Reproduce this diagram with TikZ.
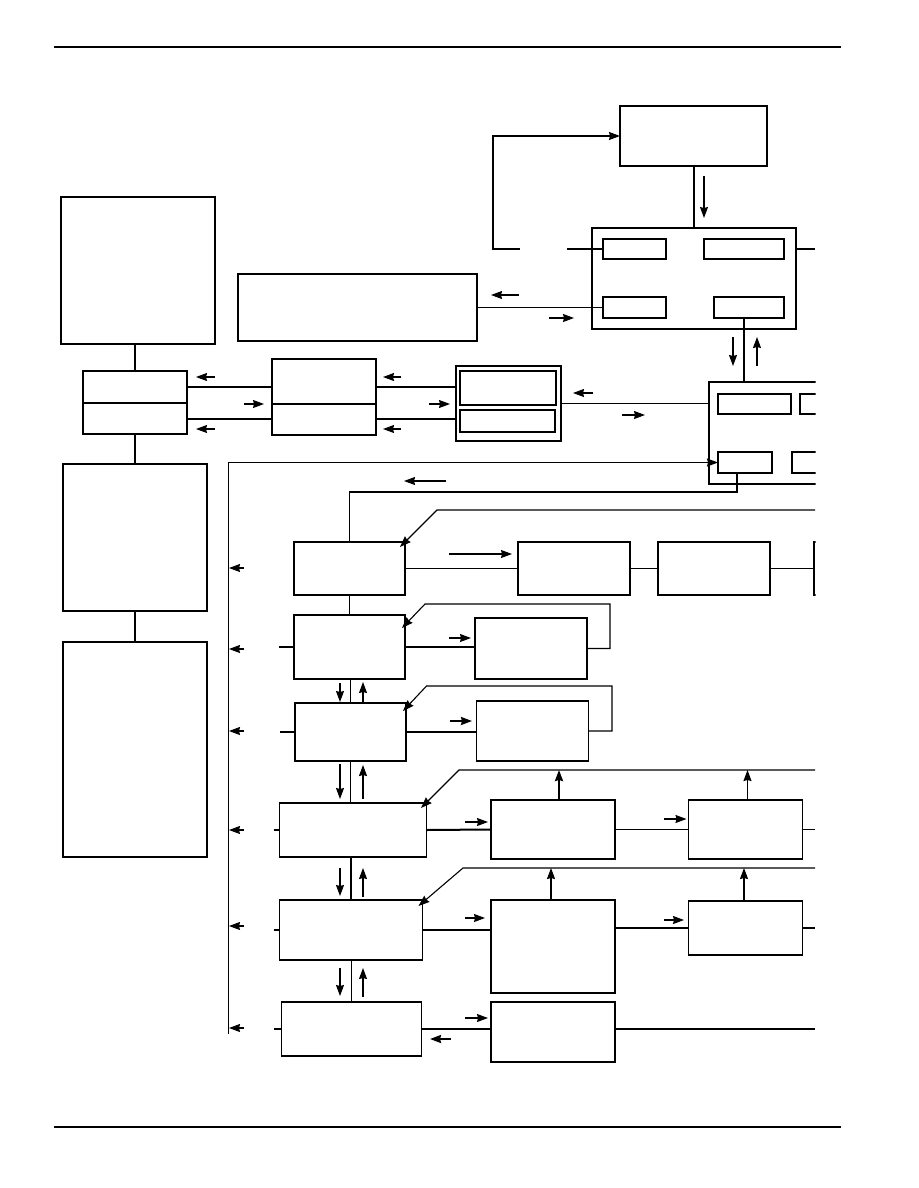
\documentclass[tikz,border=0pt]{standalone}
\usetikzlibrary{arrows.meta,calc,positioning}

\begin{document}
\begin{tikzpicture}[x=1pt,y=-1pt,line width=1.1pt,
every node/.style={draw,rectangle,inner sep=0pt,outer sep=0pt},
bx/.style 2 args={minimum width=#1pt,minimum height=#2pt},
heavy/.style={line width=2.8pt},
wire/.style={line width=2pt},
arr/.style={-{Stealth[length=11pt,width=8pt,inset=1pt]}}]
\useasboundingbox (0,0) rectangle (918,1188);

% page rules
\draw[line width=2.2pt] (54,47) -- (841,47);
\draw[line width=1.2pt] (54,1127) -- (841,1127);

% top part
\node[bx={147}{60}] (T1) at (693.5,136) {};
\node[bx={204}{101},heavy] (B1) at (694,278.5) {};
\node[bx={63}{20}] (B1a) at (634.5,249) {};
\node[bx={80}{20}] (B1b) at (744,249) {};
\node[bx={63}{21}] (B1c) at (634.5,307.5) {};
\node[bx={70}{21}] (B1d) at (749,307.5) {};
\node[bx={239}{67}] (W) at (357.5,307.5) {};

% cut at the right edge
\begin{scope}
\clip (0,0) rectangle (815.5,1188);
\node[bx={130}{102},heavy] (B2) at (774,433) {};
\node[bx={50}{20}] (B2b) at (825,404) {};
\node[bx={58}{21}] (B2d) at (821,462.5) {};
\node[bx={60}{53}] (R1d) at (844,568.5) {};
\end{scope}
\node[bx={73}{20}] (B2a) at (754.5,404) {};
\node[bx={54}{21}] (B2c) at (745,462.5) {};

% left column
\node[bx={154}{147}] (L1) at (138,270.5) {};
\node[bx={104}{32}] (L2t) at (135,387) {};
\node[bx={104}{31}] (L2b) at (135,418.5) {};
\node[bx={144}{147}] (L3) at (135,537.5) {};
\node[bx={144}{215}] (L4) at (135,749.5) {};
\node[bx={104}{45}] (Mt) at (324,381.5) {};
\node[bx={104}{31}] (Mb) at (324,419.5) {};
\node[bx={105}{75}] (S) at (508.5,403.5) {};
\node[bx={96}{34}] (S1) at (508,388) {};
\node[bx={95}{22}] (S2) at (507.5,421) {};

% rows
\node[bx={111}{53}] (R1) at (349.5,568.5) {};
\node[bx={112}{53}] (R1b) at (574,568.5) {};
\node[bx={112}{53}] (R1c) at (714,568.5) {};
\node[bx={111}{64}] (R2) at (349.5,647) {};
\node[bx={112}{61}] (R2b) at (531,648.5) {};
\node[bx={111}{58}] (R3) at (350.5,732) {};
\node[bx={112}{60}] (R3b) at (532.5,731) {};
\node[bx={147}{54}] (R4) at (353,830) {};
\node[bx={124}{59}] (R4b) at (553,829.5) {};
\node[bx={114}{59}] (R4c) at (745.5,829.5) {};
\node[bx={143}{60}] (R5) at (351,930) {};
\node[bx={124}{93}] (R5b) at (553,946.5) {};
\node[bx={114}{54}] (R5c) at (745.5,928) {};
\node[bx={140}{54}] (R6) at (351.5,1029) {};
\node[bx={124}{60}] (R6b) at (553,1032) {};

\coordinate (fbk) at (520,249);
\coordinate (busend) at (228.5,1034);

% top connections
\draw[arr] (fbk) -- (493,249) |- (T1.west);
\draw (B1a.west) -- ++(-36,0);
\draw[wire] (T1.south) -- (T1.south |- B1.north);
\draw[arr] (704,176) -- (704,218);
\draw (B1.east |- B1b.east) -- ++(19,0);
\draw (B1c.west) -- (W.east);
\draw[arr] (519,295) -- (491,295);
\draw[arr] (549,318) -- (574,318);
\draw ([xshift=-5pt]B1d.south) -- ([xshift=-5pt]B1d.south |- B2.north);
\draw[arr] (733,337) -- (733,366);
\draw[arr] (757,366) -- (757,337);

% left column connections
\draw (L2t.north) -- (L2t.north |- L1.south);
\draw (L2b.south) -- (L3.north);
\draw (L3.south) -- (L4.north);
\draw (L2t.east) -- (L2t.east -| Mt.west);
\draw[wire] (L2b.east) -- (L2b.east -| Mb.west);
\draw (L2t.east -| Mt.east) -- (L2t.east -| S.west);
\draw[wire] (L2b.east -| Mb.east) -- (L2b.east -| S.west);
\draw[arr] (215,377) -- (196,377);
\draw[arr] (244,404) -- (264,404);
\draw[arr] (215,429) -- (196,429);
\draw[arr] (401,377) -- (383,377);
\draw[arr] (429,404) -- (450,404);
\draw[arr] (401,429) -- (383,429);
\draw (S.east) -- (S.east -| B2.west);
\draw[arr] (593,393) -- (573,393);
\draw[arr] (622,415) -- (645,415);

% bus
\draw[arr] (busend) |- (B2c.west);
\draw[arr] (244,568) -- (229,568);
\draw[arr] (244,649) -- (229,649);
\draw[arr] (244,731) -- (229,731);
\draw[arr] (244,830) -- (229,830);
\draw[arr] (244,926) -- (229,926);
\draw[arr] (244,1028) -- (229,1028);

% row 1
\draw ([xshift=-8pt]B2c.south) -- ++(0,19) -| (R1.north);
\draw[arr] (446,481) -- (404,481);
\draw[arr] (815,510) -- (437,510) -- ([shift={(-5,5)}]R1.north east);
\draw (R1.east) -- (R1b.west);
\draw[arr] (449,554) -- (512,554);
\draw (R1b.east) -- (R1c.west);
\draw (R1c.east) -- (R1d.west);

% row 2
\draw (R1.south) -- (R2.north);
\draw (R2.west) -- ++(-15,0);
\draw (R2.east) -- (R2.east -| R2b.west);
\draw[arr] (449,638) -- (471,638);
\draw[arr] (R2b.east) -- ++(23,0) |- (425,604) -- ([shift={(-3,13)}]R2.north east);

% row 3
\draw (R3.north) -- (R3.north |- R2.south);
\draw[arr] (340,683) -- (340,702);
\draw[arr] (363,702) -- (363,682);
\draw (R3.west) -- ++(-15,0);
\draw (R3.east) -- (R3.east -| R3b.west);
\draw[arr,wire] (450,721) -- (472,721);
\draw[arr] (R3b.east) -- ++(23.5,0) |- (426.5,686) -- ([shift={(-3,8)}]R3.north east);

% row 4
\draw (R3.south) -- (R3.south |- R4.north);
\draw[arr] (340,764) -- (340,799);
\draw[arr] (363,799) -- (363,765);
\draw[wire] (R4.west) -- ++(-6,0);
\draw[wire] (R4.east) -- (R4b.west);
\draw[arr] (465,822) -- (488,822);
\draw (R4b.east) -- (R4c.west);
\draw[arr] (664,819) -- (686.5,819);
\draw (R4c.east) -- ++(12,0);
\draw[arr] (815,770) -- (459,770) -- ([shift={(-5.5,5)}]R4.north east);
\draw[arr,wire] ([xshift=6pt]R4b.north) -- ++(0,-30);
\draw[arr] ([xshift=2pt]R4c.north) -- ++(0,-30);

% row 5
\draw (R5.north) -- (R5.north |- R4.south);
\draw[arr] (340,868) -- (340,896);
\draw[arr] (363,897) -- (363,868);
\draw (R5.west) -- ++(-6,0);
\draw (R5.east) -- (R5.east -| R5b.west);
\draw[arr] (465,918) -- (485,918);
\draw[wire] (R5c.west -| R5b.east) -- (R5c.west);
\draw[arr] (664,920) -- (684,920);
\draw[wire] (R5c.east) -- ++(12,0);
\draw[arr] (815,868) -- (463,868) -- ([shift={(-4,6)}]R5.north east);
\draw[arr] ([xshift=-2pt]R5b.north) -- ++(0,-32);
\draw[arr] ([xshift=-1.5pt]R5c.north) -- ++(0,-33);

% row 6
\draw (R6.north) -- (R6.north |- R5.south);
\draw[arr] (340,968) -- (340,996);
\draw[arr] (363,997) -- (363,968);
\draw (R6.west) -- ++(-7.5,0);
\draw (R6.east) -- (R6.east -| R6b.west);
\draw[arr] (465,1018) -- (488,1018);
\draw[arr,wire] (451,1039) -- (430,1039);
\draw (R6.east -| R6b.east) -- ++(200,0);
\end{tikzpicture}
\end{document}
